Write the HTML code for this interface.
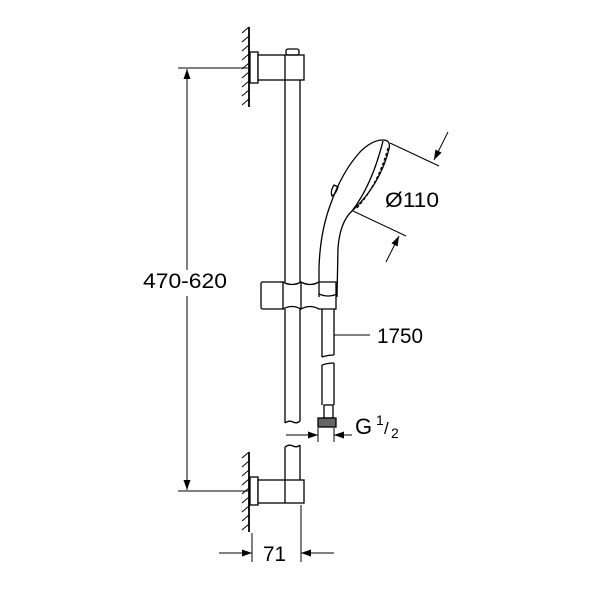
<!DOCTYPE html>
<html><head><style>body{margin:0;background:#fff}svg{display:block}</style></head>
<body>
<svg width="600" height="600" viewBox="0 0 600 600" xmlns="http://www.w3.org/2000/svg" font-family="Liberation Sans, sans-serif">
<defs><marker id="a" viewBox="0 0 10 10" refX="10" refY="5" markerWidth="10" markerHeight="10" markerUnits="userSpaceOnUse" orient="auto"><path d="M0,1.5 L10,5 L0,8.5 Z" fill="#000"/></marker></defs>
<g fill="none" stroke="#000" stroke-width="1.3">
<line x1="249" y1="27" x2="249" y2="107" stroke-width="1.8"/>
<g stroke-width="1">
<path d="M242,33l7,-6M242,42l7,-6M242,51l7,-6M242,60l7,-6M242,69l7,-6M242,78l7,-6M242,87l7,-6M242,96l7,-6M242,105l7,-6"/>
<path d="M242,458l7,-6M242,467l7,-6M242,476l7,-6M242,485l7,-6M242,494l7,-6M242,503l7,-6M242,512l7,-6M242,521l7,-6M242,530l7,-6"/>
</g>
<rect x="250" y="52" width="8" height="31" fill="#fff"/>
<rect x="258" y="55" width="46" height="25" fill="#fff"/>
<line x1="285" y1="55" x2="285" y2="80"/>
<rect x="286" y="49" width="13" height="6" rx="2"/>
<line x1="285" y1="80" x2="285" y2="282"/>
<line x1="300" y1="80" x2="300" y2="282"/>
<line x1="285" y1="309" x2="285" y2="423"/>
<line x1="300" y1="309" x2="300" y2="421"/>
<path d="M285,423 q4,-3 8,-1 q4,2 7,-1"/>
<path d="M285,447 q4,-3 8,-1 q4,2 7,-1"/>
<line x1="285" y1="447" x2="285" y2="480"/>
<line x1="300" y1="445" x2="300" y2="480"/>
<line x1="249" y1="452" x2="249" y2="532" stroke-width="1.8"/>
<rect x="250" y="477" width="8" height="28" fill="#fff"/>
<rect x="258" y="480" width="46" height="23" fill="#fff"/>
<line x1="285" y1="480" x2="285" y2="503"/>
<path d="M261,284 q0,-2 2,-2 h20 v27 h-20 q-2,0 -2,-2 z"/>
<path d="M283,282 q9,5 18,0 q9,5 18,0 h17 v27 h-17 q-9,-5 -18,0 q-9,-5 -18,0"/>
<line x1="301" y1="282" x2="301" y2="309"/>
<line x1="322" y1="309" x2="322" y2="357"/>
<line x1="334" y1="309" x2="334" y2="355"/>
<path d="M322,357 q6,-2 12,-2"/>
<path d="M322,365 q6,-2 12,-2"/>
<line x1="322" y1="365" x2="322" y2="405"/>
<line x1="334" y1="363" x2="334" y2="405"/>
<rect x="324" y="405" width="9" height="13"/>
<rect x="318" y="418" width="18" height="9" fill="#666"/>
<path d="M319,297 L319,268 Q320,232 331,203 Q342,172 360,152 Q372,140 383,140 Q391,140 389,149 Q380,185 352,211 Q340,222 338,248 L337,297"/>
<path d="M319,294 q9,4 18,0"/>
<path d="M383,141 Q372,185 352,211"/>
<path d="M388,148 Q378,185 356,209" stroke-dasharray="3,2"/>
<path d="M334,185 q-4,6 -2,11 q4,-2 6,-9 z"/>
<line x1="390" y1="143" x2="439" y2="166" stroke-width="1"/>
<line x1="353" y1="211" x2="406" y2="236" stroke-width="1"/>
<line x1="448" y1="132" x2="434" y2="160" stroke-width="1" marker-end="url(#a)"/>
<line x1="386" y1="262" x2="399" y2="236" stroke-width="1" marker-end="url(#a)"/>
<g stroke-width="1">
<line x1="178" y1="68" x2="248" y2="68"/>
<line x1="178" y1="491" x2="248" y2="491"/>
<line x1="187" y1="270" x2="187" y2="69" marker-end="url(#a)"/>
<line x1="187" y1="296" x2="187" y2="490" marker-end="url(#a)"/>
<line x1="334" y1="335" x2="370" y2="335"/>
<line x1="318" y1="428" x2="318" y2="442"/>
<line x1="334" y1="428" x2="334" y2="442"/>
<line x1="286" y1="435" x2="318" y2="435" marker-end="url(#a)"/>
<line x1="352" y1="435" x2="334" y2="435" marker-end="url(#a)"/>
<line x1="252" y1="533" x2="252" y2="562"/>
<line x1="301" y1="505" x2="301" y2="562"/>
<line x1="219" y1="553" x2="252" y2="553" marker-end="url(#a)"/>
<line x1="334" y1="553" x2="301" y2="553" marker-end="url(#a)"/>
</g>
</g>
<g font-size="21" fill="#000">
<rect x="140" y="270" width="92" height="26" fill="#fff"/>
<text x="143" y="288" textLength="84" lengthAdjust="spacingAndGlyphs">470-620</text>
<text x="385" y="207" textLength="54" lengthAdjust="spacingAndGlyphs">Ø110</text>
<text x="377" y="343" textLength="46" lengthAdjust="spacingAndGlyphs">1750</text>
<text x="355" y="434" font-size="22">G</text>
<text x="376" y="425" font-size="14">1</text>
<text x="384" y="434" font-size="17">/</text>
<text x="391" y="438" font-size="14">2</text>
<text x="263" y="561" textLength="23" lengthAdjust="spacingAndGlyphs">71</text>
</g>
</svg>
</body></html>
